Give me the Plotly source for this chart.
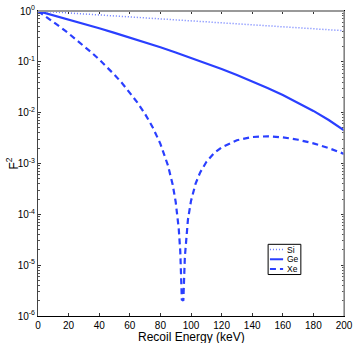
"""Helm form factor F^2 vs recoil energy for Si, Ge and Xe."""

import plotly.graph_objects as go

# Recoil energy grid (keV) for Si and Ge
E_SMOOTH = [0, 10, 20, 30, 40, 50, 60, 70, 80, 90, 100,
            110, 120, 130, 140, 150, 160, 170, 180, 190, 200]

SI_F2 = [1.0, 0.9578, 0.9173, 0.8783, 0.8409, 0.8049, 0.7704, 0.7372,
         0.7054, 0.6747, 0.6454, 0.6172, 0.5901, 0.5641, 0.5391, 0.5152,
         0.4922, 0.4702, 0.4491, 0.4296, 0.4094]

GE_F2 = [1.0, 0.8275, 0.6821, 0.5598, 0.4574, 0.3719, 0.3007, 0.2418,
         0.1931, 0.1531, 0.1204, 0.09382, 0.07236, 0.05515, 0.04145,
         0.03065, 0.02223, 0.01573, 0.01083, 0.007166, 0.004508]

# Xe needs a finer grid around the dip near 94 keV
E_XE = [0, 5, 10, 15, 20, 25, 30, 35, 40, 45, 50, 55, 60, 65, 70, 75, 80,
        85, 88, 90, 92, 93, 94, 95, 96, 98, 100, 103, 106, 110, 115, 120,
        130, 140, 150, 160, 170, 180, 190, 200]

XE_F2 = [1.0, 0.7848, 0.6115, 0.4727, 0.3622, 0.2747, 0.2060, 0.1524,
         0.1111, 0.07951, 0.05569, 0.03798, 0.02505, 0.01581, 0.009405,
         0.005132, 0.002442, 9.023e-4, 3.868e-4, 1.753e-4, 5.17e-5,
         1.85e-5, 2.1e-6, 2.0e-6, 1.48e-5, 7.85e-5, 1.838e-4, 4.012e-4,
         6.685e-4, 1.068e-3, 1.587e-3, 2.080e-3, 2.869e-3, 3.316e-3,
         3.429e-3, 3.274e-3, 2.934e-3, 2.491e-3, 2.012e-3, 1.547e-3]

SERIES = ["Si", "Ge", "Xe"]

X_TICKS = [0, 20, 40, 60, 80, 100, 120, 140, 160, 180, 200]
Y_TICKS = [1e-6, 1e-5, 1e-4, 1e-3, 1e-2, 1e-1, 1]
Y_TICK_TEXT = ["10<sup>-6</sup>", "10<sup>-5</sup>", "10<sup>-4</sup>",
               "10<sup>-3</sup>", "10<sup>-2</sup>", "10<sup>-1</sup>",
               "10<sup>0</sup>"]
Y_MINOR = [m * 10.0 ** k for k in range(-6, 0) for m in range(2, 10)]

BLUE = "#2a3fff"
FONT = "Liberation Sans, Arial, sans-serif"
STYLES = {
    "Si": dict(color="#6a7bff", width=1.5, dash="1px,2px"),
    "Ge": dict(color=BLUE, width=2.2),
    "Xe": dict(color=BLUE, width=2.2, dash="6px,4px"),
}

fig = go.Figure()
fig.add_trace(go.Scatter(x=E_SMOOTH, y=SI_F2, name="Si", mode="lines",
                         line=STYLES["Si"]))
fig.add_trace(go.Scatter(x=E_SMOOTH, y=GE_F2, name="Ge", mode="lines",
                         line=STYLES["Ge"]))
fig.add_trace(go.Scatter(x=E_XE, y=XE_F2, name="Xe", mode="lines",
                         line=STYLES["Xe"]))

fig.update_layout(
    width=354,
    height=343,
    margin=dict(l=38, r=10, t=11, b=27),
    paper_bgcolor="white",
    plot_bgcolor="white",
    font=dict(family=FONT, size=10, color="black"),
    showlegend=False,
)

fig.update_xaxes(
    range=[0, 200],
    tickvals=X_TICKS,
    ticks="inside", ticklen=3, tickcolor="#333",
    showline=True, linecolor="black", linewidth=1,
    mirror="ticks",
    showgrid=False, zeroline=False,
    tickfont=dict(size=10),
    automargin=False,
)
fig.update_yaxes(
    type="log",
    range=[-6, 0],
    tickvals=Y_TICKS, ticktext=Y_TICK_TEXT,
    ticks="inside", ticklen=3, tickcolor="#333",
    minor=dict(tickvals=Y_MINOR, ticks="inside", ticklen=2,
               tickcolor="#555", showgrid=False),
    showline=True, linecolor="#444", linewidth=1,
    mirror="ticks",
    showgrid=False, zeroline=False,
    tickfont=dict(size=10),
    automargin=False,
)

# axis titles placed as in the reference
fig.add_annotation(text="Recoil Energy (keV)", xref="paper", yref="paper",
                   x=0.5, y=-0.07, xanchor="center", yanchor="middle",
                   showarrow=False, font=dict(size=12))
fig.add_annotation(text="F<sup>2</sup>", xref="paper", yref="paper",
                   x=-0.085, y=0.5, xanchor="center", yanchor="middle",
                   textangle=-90, showarrow=False, font=dict(size=12))

# gray top and right frame edges
fig.add_shape(type="line", xref="paper", yref="paper", x0=0, x1=1, y0=1, y1=1,
              line=dict(color="#999", width=2))
fig.add_shape(type="line", xref="paper", yref="paper", x0=1, x1=1, y0=0, y1=1,
              line=dict(color="#999", width=1.5))

# compact legend box (plotly's own legend rows are too tall here)
fig.add_shape(type="rect", xref="paper", yref="paper",
              x0=0.752, x1=0.859, y0=0.136, y1=0.235,
              line=dict(color="black", width=1), fillcolor="white")
for i, name in enumerate(SERIES):
    yy = 0.218 - i * 0.032
    sample = dict(STYLES[name])
    sample["width"] = min(sample["width"], 2)
    fig.add_shape(type="line", xref="paper", yref="paper",
                  x0=0.758, x1=0.801, y0=yy, y1=yy, line=sample)
    fig.add_annotation(text=name, xref="paper", yref="paper",
                       x=0.807, y=yy, xanchor="left", yanchor="middle",
                       showarrow=False, font=dict(size=8.5))

# drop the browser's default body margin so the figure sits at the corner
fig.write_html("out.html", config={"displayModeBar": False},
               post_script="document.body.style.margin='0';")
